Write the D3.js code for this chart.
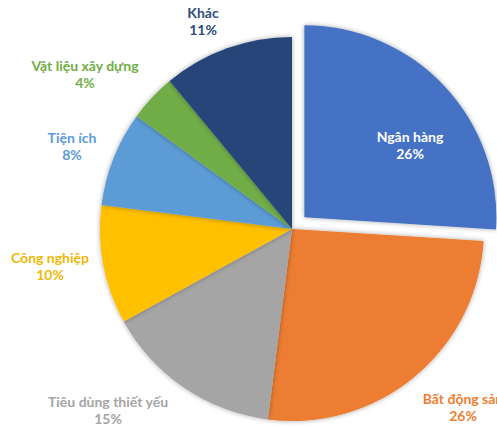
<!DOCTYPE html>
<html>
<head>
<meta charset="utf-8">
<script src="https://cdn.jsdelivr.net/npm/d3@7"></script>
<style>
  html, body { margin: 0; padding: 0; background: #fff; overflow: hidden; }
  svg { display: block; }
</style>
</head>
<body>
<svg id="chart" width="497" height="427"></svg>
<script>
// Sector weights (%), clockwise from 12 o'clock
const sectors = ["Ngân hàng", "Bất động sản", "Tiêu dùng thiết yếu", "Công nghiệp", "Tiện ích", "Vật liệu xây dựng", "Khác"];
const shares  = [26, 26, 15, 10, 8, 4, 11];
const colors  = ["#4472C4", "#ED7D31", "#A5A5A5", "#FFC000", "#5B9BD5", "#70AD47", "#264478"];
const labelColors = ["#FFFFFF", "#ED7D31", "#A5A5A5", "#F2B705", "#5B9BD5", "#70AD47", "#2F4B7C"];

// Layout
const W = 497, H = 427;
const cx = 292, cy = 229, R = 192;
const explodeIndex = 0, explodeDist = 17;
// Label anchor points (centre of the first text line)
const labelAt = [
  [410, 138], [463, 400], [108, 403], [50, 259], [72, 139], [85, 67], [203, 14]
];

const svg = d3.select("#chart");

const defs = svg.append("defs");
const shadow = defs.append("filter").attr("id", "soft")
  .attr("x", "-20%").attr("y", "-20%").attr("width", "140%").attr("height", "140%");
shadow.append("feGaussianBlur").attr("in", "SourceAlpha").attr("stdDeviation", 2.5).attr("result", "b");
shadow.append("feComponentTransfer").attr("in", "b").attr("result", "s")
  .append("feFuncA").attr("type", "linear").attr("slope", 0.35);
const merge = shadow.append("feMerge");
merge.append("feMergeNode").attr("in", "s");
merge.append("feMergeNode").attr("in", "SourceGraphic");

const data = sectors.map((name, i) => ({ name, value: shares[i], i }));

const pie = d3.pie().value(d => d.value).sort(null);
const arc = d3.arc().innerRadius(0).outerRadius(R);
const arcs = pie(data);

const g = svg.append("g").attr("transform", `translate(${cx},${cy})`);

g.selectAll("path.slice")
  .data(arcs)
  .join("path")
  .attr("class", "slice")
  .attr("fill", d => colors[d.data.i])
  .attr("filter", "url(#soft)")
  .attr("transform", d => {
    if (d.data.i !== explodeIndex) return null;
    const a = (d.startAngle + d.endAngle) / 2;
    return `translate(${Math.sin(a) * explodeDist},${-Math.cos(a) * explodeDist})`;
  })
  .attr("d", arc);

// Data labels: category name and percentage
const labels = svg.append("g")
  .attr("font-family", "Lato, 'Open Sans', sans-serif")
  .attr("font-weight", 700)
  .attr("font-size", 14)
  .attr("text-anchor", "middle");

data.forEach((d, i) => {
  const [x, y] = labelAt[i];
  const t = labels.append("text")
    .attr("fill", labelColors[i])
    .attr("x", x).attr("y", y)
    .attr("dominant-baseline", "middle");
  t.append("tspan").attr("x", x).attr("dy", 0).text(d.name);
  t.append("tspan").attr("x", x).attr("dy", 17).text(d3.format("d")(d.value) + "%");
});
</script>
</body>
</html>
